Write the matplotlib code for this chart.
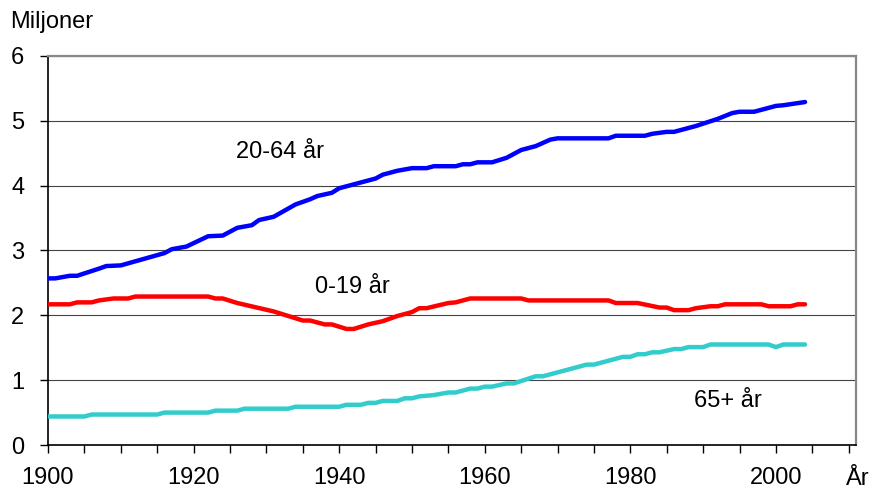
import matplotlib.pyplot as plt
from matplotlib.ticker import MultipleLocator

plt.rcParams['font.family'] = ['Liberation Sans', 'DejaVu Sans']

# 20-64 år
years_mid = [1900, 1901, 1903, 1904, 1907, 1908, 1910, 1916, 1917, 1919, 1922, 1924, 1926,
             1928, 1929, 1931, 1934, 1936, 1937, 1939, 1940, 1945, 1946, 1948, 1950, 1952,
             1953, 1956, 1957, 1958, 1959, 1961, 1963, 1965, 1967, 1969, 1970, 1977, 1978,
             1982, 1983, 1985, 1986, 1989, 1992, 1994, 1995, 1997, 2000, 2001, 2004]
pop_mid = [2.57, 2.57, 2.61, 2.61, 2.72, 2.76, 2.77, 2.96, 3.02, 3.06, 3.22, 3.23, 3.35,
           3.39, 3.47, 3.52, 3.71, 3.79, 3.84, 3.89, 3.96, 4.11, 4.17, 4.23, 4.27, 4.27,
           4.30, 4.30, 4.33, 4.33, 4.36, 4.36, 4.43, 4.55, 4.61, 4.71, 4.73, 4.73, 4.77,
           4.77, 4.80, 4.83, 4.83, 4.92, 5.03, 5.12, 5.14, 5.14, 5.23, 5.24, 5.29]

# 0-19 år
years_young = [1900, 1903, 1904, 1906, 1907, 1909, 1911, 1912, 1922, 1923, 1924, 1926, 1931,
               1935, 1936, 1938, 1939, 1941, 1942, 1944, 1946, 1948, 1950, 1951, 1952, 1955,
               1956, 1958, 1965, 1966, 1977, 1978, 1981, 1984, 1985, 1986, 1988, 1989, 1991,
               1992, 1993, 1998, 1999, 2002, 2003, 2004]
pop_young = [2.17, 2.17, 2.20, 2.20, 2.23, 2.26, 2.26, 2.29, 2.29, 2.26, 2.26, 2.19, 2.06,
             1.92, 1.92, 1.86, 1.86, 1.79, 1.79, 1.86, 1.91, 1.99, 2.05, 2.11, 2.11, 2.19,
             2.20, 2.26, 2.26, 2.23, 2.23, 2.19, 2.19, 2.12, 2.12, 2.08, 2.08, 2.11, 2.14,
             2.14, 2.17, 2.17, 2.14, 2.14, 2.17, 2.17]

# 65+ år
years_old = [1900, 1905, 1906, 1915, 1916, 1922, 1923, 1926, 1927, 1933, 1934, 1940, 1941,
             1943, 1944, 1945, 1946, 1948, 1949, 1950, 1951, 1953, 1955, 1956, 1958, 1959,
             1960, 1961, 1963, 1964, 1967, 1968, 1972, 1974, 1975, 1979, 1980, 1981, 1982,
             1983, 1984, 1986, 1987, 1988, 1990, 1991, 1999, 2000, 2001, 2004]
pop_old = [0.44, 0.44, 0.47, 0.47, 0.50, 0.50, 0.53, 0.53, 0.56, 0.56, 0.59, 0.59, 0.62,
           0.62, 0.65, 0.65, 0.68, 0.68, 0.72, 0.72, 0.75, 0.77, 0.81, 0.81, 0.87, 0.87,
           0.90, 0.90, 0.95, 0.95, 1.06, 1.06, 1.18, 1.24, 1.24, 1.36, 1.36, 1.40, 1.40,
           1.43, 1.43, 1.48, 1.48, 1.51, 1.51, 1.55, 1.55, 1.51, 1.55, 1.55]

fig = plt.figure(figsize=(8.72, 4.9), dpi=100)
ax = fig.add_axes([48 / 872, 45 / 490, 808 / 872, 389 / 490])

kw = dict(lw=3.2, solid_capstyle='round', solid_joinstyle='round', zorder=3)
ax.plot(years_mid, pop_mid, color='#0000ff', **kw)
ax.plot(years_young, pop_young, color='#ff0000', **kw)
ax.plot(years_old, pop_old, color='#33cccc', **kw)

ax.set_xlim(1900, 2011)
ax.set_ylim(0, 6)
ax.xaxis.set_major_locator(MultipleLocator(20))
ax.xaxis.set_minor_locator(MultipleLocator(5))
ax.yaxis.set_major_locator(MultipleLocator(1))

ax.tick_params(axis='both', which='both', direction='out', length=6, width=1,
               colors='black', labelsize=17)
ax.tick_params(axis='x', which='both', pad=10)
ax.tick_params(axis='y', pad=11)

ax.grid(axis='y', color='#444444', lw=0.8, zorder=1)
for s in ['top', 'right']:
    ax.spines[s].set_color('#888888')
    ax.spines[s].set_linewidth(1.6)
for s in ['left', 'bottom']:
    ax.spines[s].set_color('black')
    ax.spines[s].set_linewidth(1.2)

# series labels
fig.text(280 / 872, 1 - 152 / 490, '20-64 år', fontsize=17, ha='center', va='center')
fig.text(352 / 872, 1 - 287 / 490, '0-19 år', fontsize=17, ha='center', va='center')
fig.text(728 / 872, 1 - 401 / 490, '65+ år', fontsize=17, ha='center', va='center')

fig.text(10 / 872, 1 - 22 / 490, 'Miljoner', fontsize=17, ha='left', va='center')
fig.text(846 / 872, 1 - 485 / 490, 'År', fontsize=17, ha='left', va='baseline')

fig.savefig('out.png', dpi=100)
